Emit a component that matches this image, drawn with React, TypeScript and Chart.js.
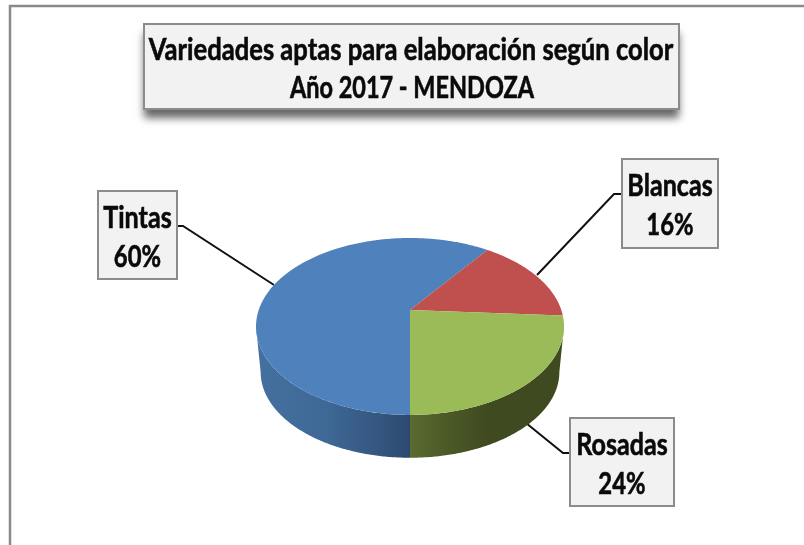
import React, { useEffect, useRef } from "react";
import { Chart, registerables } from "chart.js";

Chart.register(...registerables);

const categories = ["Tintas", "Blancas", "Rosadas"];
const values = [60, 16, 24];
const topColors = ["#4f81bd", "#c0504d", "#9bbb59"];
const titleLines = ["Variedades aptas para elaboración según color", "Año 2017 - MENDOZA"];

const FONT = "Lato, Carlito, 'Open Sans', sans-serif";

// Perspective of the tilted disc: unit-circle point -> screen
const CX = 410;
const CY = 310;
const RX = 151.3;
const A = 85.4;
const K = -0.186;
const DEPTH = 46;
const FLOOR_SCALE = 0.97;
const SILHOUETTE = Math.atan2(0.186, 0.9825);

const project = (ang: number, floor = false) => {
  const u = Math.cos(ang);
  const v = Math.sin(ang);
  const d = 1 + K * v;
  const s = floor ? FLOOR_SCALE : 1;
  return { x: CX + (s * RX * u) / d, y: CY + (floor ? DEPTH : 0) + (s * A * v) / d };
};

const sample = (a: number, b: number, floor = false) => {
  const n = Math.max(2, Math.ceil(Math.abs(b - a) / 0.01));
  const pts = [];
  for (let i = 0; i <= n; i++) pts.push(project(a + ((b - a) * i) / n, floor));
  return pts;
};

const norm = (a: number) => {
  let r = a;
  while (r > Math.PI) r -= 2 * Math.PI;
  while (r <= -Math.PI) r += 2 * Math.PI;
  return r;
};

const wallGradient = (ctx: CanvasRenderingContext2D, index: number) => {
  if (index === 0) {
    const g = ctx.createLinearGradient(258, 0, 410, 0);
    g.addColorStop(0, "#44709f");
    g.addColorStop(0.45, "#3e6896");
    g.addColorStop(0.8, "#35567f");
    g.addColorStop(1, "#2c4a70");
    return g;
  }
  const g = ctx.createLinearGradient(410, 0, 490, 0);
  g.addColorStop(0, "#5b6b30");
  g.addColorStop(0.5, "#4a5826");
  g.addColorStop(1, "#3f4a20");
  return g;
};

const labelBoxes = [
  { x: 98, y: 191, w: 79, h: 88, line: [[177, 226], [183, 226], [274, 285]] },
  { x: 622, y: 159, w: 96, h: 89, line: [[622, 194], [614, 194], [537, 275]] },
  { x: 570, y: 418, w: 104, h: 88, line: [[570, 453], [563, 453], [526, 423]] },
];

const fitText = (ctx: CanvasRenderingContext2D, text: string, x: number, y: number, squeeze: number) => {
  const w = ctx.measureText(text).width;
  ctx.lineWidth = 0.6;
  ctx.strokeStyle = "#0a0a0a";
  ctx.fillText(text, x, y, w * squeeze);
  ctx.strokeText(text, x, y, w * squeeze);
};

const pie3d = {
  id: "pie3d",
  beforeDraw(chart: Chart) {
    const ctx = chart.ctx;
    ctx.save();
    ctx.fillStyle = "#ffffff";
    ctx.fillRect(0, 0, chart.width, chart.height);
    ctx.strokeStyle = "#8a8a8a";
    ctx.lineWidth = 2.5;
    ctx.beginPath();
    ctx.moveTo(804, 6);
    ctx.lineTo(10, 6);
    ctx.lineTo(10, 545);
    ctx.stroke();

    // leader lines sit behind the disc
    ctx.strokeStyle = "#111111";
    ctx.lineWidth = 2;
    labelBoxes.forEach((b) => {
      ctx.beginPath();
      b.line.forEach(([x, y], i) => (i ? ctx.lineTo(x, y) : ctx.moveTo(x, y)));
      ctx.stroke();
    });
    ctx.restore();
  },
  beforeDatasetsDraw(chart: Chart) {
    const ctx = chart.ctx;
    const arcs = chart.getDatasetMeta(0).data as any[];
    ctx.save();
    // side wall, front half only
    arcs.forEach((arc, i) => {
      const segs: [number, number][] = [];
      const span = arc.endAngle - arc.startAngle;
      const N = 720;
      let start: number | null = null;
      let last = 0;
      for (let k = 0; k <= N; k++) {
        const a = arc.startAngle + (span * k) / N;
        const n = norm(a);
        const front = n >= SILHOUETTE && n <= Math.PI - SILHOUETTE;
        if (front) {
          if (start === null) start = a;
          last = a;
        } else if (start !== null) {
          segs.push([start, last]);
          start = null;
        }
      }
      if (start !== null) segs.push([start, last]);
      segs.forEach(([a, b]) => {
        const upper = sample(a, b);
        const lower = sample(b, a, true);
        ctx.beginPath();
        [...upper, ...lower].forEach((p, j) => (j ? ctx.lineTo(p.x, p.y) : ctx.moveTo(p.x, p.y)));
        ctx.closePath();
        ctx.fillStyle = wallGradient(ctx, i);
        ctx.fill();
      });
    });
    // top face, driven by the arc elements' angles
    arcs.forEach((arc, i) => {
      const pts = sample(arc.startAngle, arc.endAngle);
      ctx.beginPath();
      ctx.moveTo(CX, CY);
      pts.forEach((p) => ctx.lineTo(p.x, p.y));
      ctx.closePath();
      ctx.fillStyle = topColors[i];
      ctx.fill();
    });
    ctx.restore();
    return false;
  },
  beforeDatasetDraw() {
    return false;
  },
  afterDraw(chart: Chart) {
    const ctx = chart.ctx;
    ctx.save();
    // title box
    ctx.save();
    ctx.shadowColor = "rgba(0,0,0,0.6)";
    ctx.shadowBlur = 8;
    ctx.shadowOffsetY = 9;
    ctx.shadowOffsetX = 0;
    ctx.fillStyle = "#f2f2f2";
    ctx.fillRect(144, 24, 535, 85);
    ctx.restore();
    ctx.strokeStyle = "#8c8c8c";
    ctx.lineWidth = 2;
    ctx.strokeRect(144, 24, 535, 85);
    ctx.fillStyle = "#0a0a0a";
    ctx.textAlign = "center";
    ctx.textBaseline = "middle";
    ctx.font = `bold 31px ${FONT}`;
    fitText(ctx, titleLines[0], 411, 50, 0.825);
    fitText(ctx, titleLines[1], 412, 88, 0.757);

    // data labels
    const total = values.reduce((s, v) => s + v, 0);
    categories.forEach((name, i) => {
      const b = labelBoxes[i];
      ctx.fillStyle = "#f2f2f2";
      ctx.fillRect(b.x, b.y, b.w, b.h);
      ctx.strokeStyle = "#8c8c8c";
      ctx.lineWidth = 2;
      ctx.strokeRect(b.x, b.y, b.w, b.h);
      ctx.fillStyle = "#0a0a0a";
      ctx.font = `bold 31px ${FONT}`;
      const mx = b.x + b.w / 2;
      fitText(ctx, name, mx, b.y + 27, 0.81);
      fitText(ctx, `${Math.round((values[i] / total) * 100)}%`, mx, b.y + 66, 0.77);
    });
    ctx.restore();
  },
};

export default function App() {
  const ref = useRef<HTMLCanvasElement>(null);
  useEffect(() => {
    document.body.style.margin = "0";
    const chart = new Chart(ref.current!, {
      type: "pie",
      data: {
        labels: categories,
        datasets: [{ data: values, backgroundColor: topColors, borderWidth: 0 }],
      },
      options: {
        responsive: false,
        animation: false,
        rotation: 180,
        plugins: { legend: { display: false }, tooltip: { enabled: false } },
      },
      plugins: [pie3d as any],
    });
    return () => chart.destroy();
  }, []);
  return <canvas ref={ref} width={804} height={545} style={{ display: "block" }} />;
}
